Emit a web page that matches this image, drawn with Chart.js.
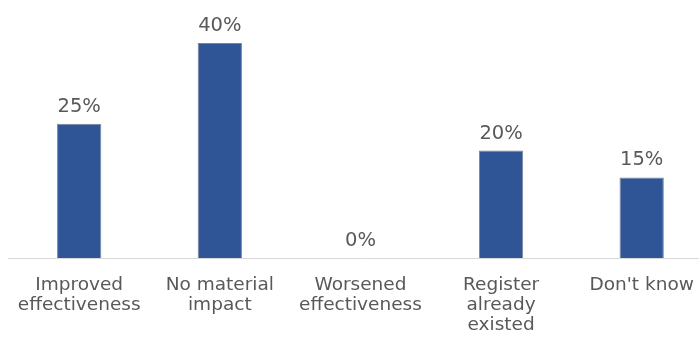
<!DOCTYPE html>
<html>
<head>
<meta charset="utf-8">
<script src="https://cdn.jsdelivr.net/npm/chart.js@4/dist/chart.umd.min.js"></script>
<style>
html,body{margin:0;padding:0;background:#fff;overflow:hidden;width:699px;height:337px;}
#wrap{position:absolute;left:0;top:0;width:714px;height:337px;}
</style>
</head>
<body>
<div id="wrap"><canvas id="c" width="714" height="337"></canvas></div>
<script>
const categories = [
  ["Improved", "effectiveness"],
  ["No material", "impact"],
  ["Worsened", "effectiveness"],
  ["Register", "already", "existed"],
  ["Don't know"]
];
const values = [25, 40, 0, 20, 15];

const FONT = "'DejaVu Sans', Verdana, sans-serif";
const TEXT = "#595959";

const valueLabels = {
  id: 'valueLabels',
  afterDatasetsDraw(chart) {
    const ctx = chart.ctx;
    const meta = chart.getDatasetMeta(0);
    ctx.save();
    ctx.font = "19.5px " + FONT;
    ctx.fillStyle = TEXT;
    ctx.textAlign = 'center';
    ctx.textBaseline = 'alphabetic';
    meta.data.forEach((bar, i) => {
      ctx.fillText(values[i] + '%', bar.x, bar.y - 12);
    });
    ctx.restore();
  }
};

new Chart(document.getElementById('c'), {
  type: 'bar',
  data: {
    labels: categories,
    datasets: [{
      data: values,
      backgroundColor: '#2F5597',
      borderColor: '#7a8598',
      borderWidth: 1,
      barPercentage: 0.63,
      categoryPercentage: 0.5
    }]
  },
  options: {
    responsive: false,
    animation: false,
    devicePixelRatio: 1,
    layout: { padding: { left: 8, right: 2, top: 0, bottom: 0 } },
    plugins: { legend: { display: false }, tooltip: { enabled: false } },
    scales: {
      y: {
        display: false,
        min: 0,
        max: 48
      },
      x: {
        grid: { display: false, drawTicks: false },
        border: { display: true, color: '#d9d9d9', width: 1 },
        ticks: {
          color: TEXT,
          font: { family: FONT, size: 18.5, lineHeight: 1.08 },
          padding: 17,
          maxRotation: 0,
          autoSkip: false
        },
        afterFit(scale) { scale.height = 79; }
      }
    }
  },
  plugins: [valueLabels]
});
</script>
</body>
</html>
